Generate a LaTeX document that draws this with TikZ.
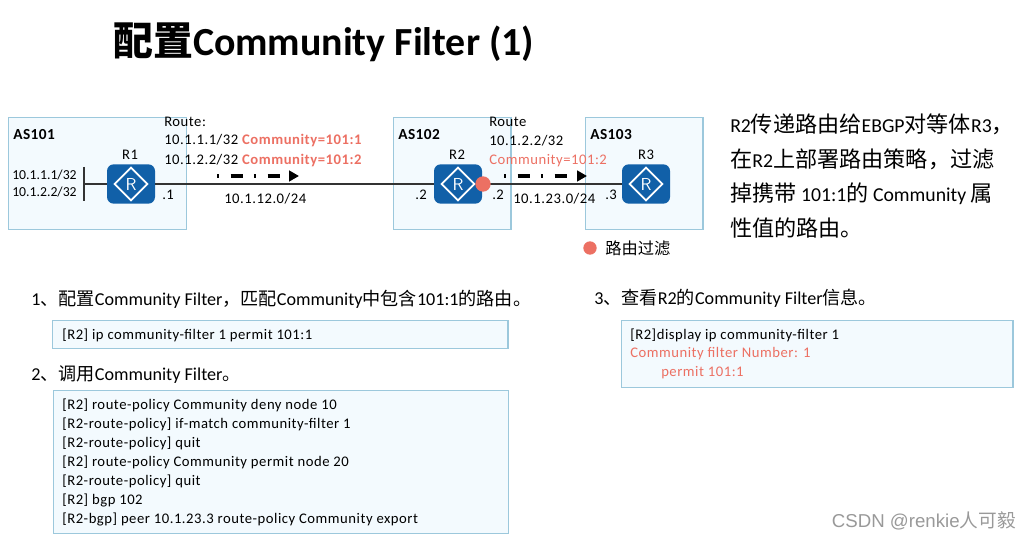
\documentclass[tikz,border=0pt]{standalone}
\usepackage{fontspec}
\usetikzlibrary{shapes.geometric,arrows.meta}
\setmainfont{Carlito}
\newfontfamily\cjk{Noto Sans CJK SC}
\newfontfamily\wmfont{Liberation Sans}
\newcommand{\zh}[1]{{\cjk #1}}
\newcommand{\zhb}[1]{{\cjk\fontsize{16.6}{18}\selectfont #1}}
\newcommand{\spaced}{\fontsize{11}{13}\selectfont\addfontfeature{LetterSpace=3.6}}
\definecolor{salmon}{HTML}{EC7063}
\definecolor{routerblue}{HTML}{1160A8}
\definecolor{boxfill}{HTML}{F3FAFE}
\definecolor{boxline}{HTML}{9CC8DC}
\definecolor{linkdark}{HTML}{333333}
\tikzset{
 x=0.75pt,y=-0.75pt,
 asbox/.style={draw=boxline,fill=boxfill,line width=0.9pt,minimum width=0pt,inner sep=0pt,anchor=north west},
 router/.style={fill=routerblue,rounded corners=5pt,minimum width=36pt,minimum height=29.5pt,inner sep=0pt},
 rmark/.style={draw=white,line width=1.3pt,diamond,aspect=1,minimum size=25pt,inner sep=0pt,text=white,font=\fontsize{13}{13}\selectfont\sffamily},
 lab/.style={inner sep=0pt,font=\spaced,text=black},
 lableft/.style={lab,anchor=west},
 red/.style={text=salmon},
 link/.style={draw=linkdark,line width=1.5pt},
 flow/.style={draw=black,line width=2.6pt,dash pattern=on 1.2pt off 9pt on 9.5pt off 8pt,-{Triangle[length=7.5pt,width=8pt]}},
 dot/.style={circle,fill=salmon,inner sep=0pt},
 head/.style={inner sep=0pt,anchor=west,font=\fontsize{13.6}{16}\selectfont},
 cmd/.style={inner sep=0pt,anchor=west,font=\spaced},
 side/.style={inner sep=0pt,anchor=west,font=\fontsize{14.8}{18}\selectfont},
 asname/.style={inner sep=0pt,anchor=west,font=\fontsize{11.5}{13}\selectfont\bfseries\addfontfeature{LetterSpace=3}},
}
\begin{document}
\begin{tikzpicture}
\useasboundingbox (0,0) rectangle (1031,541);
% title
\node[inner sep=0pt,anchor=west,font=\fontsize{29.9}{34}\selectfont\bfseries] (title) at (113,42) {\zh{配置}Community Filter (1)};
% AS boxes
\node[asbox,minimum width=133.5pt,minimum height=84pt] (as101) at (8,117) {};
\node[asbox,minimum width=88pt,minimum height=84pt] (as102) at (393,117) {};
\node[asbox,minimum width=88pt,minimum height=84pt] (as103) at (585,117) {};
\node[asname] (l101) at (13,134.5) {AS101};
\node[asname] (l102) at (398,134.5) {AS102};
\node[asname] (l103) at (590,134.5) {AS103};
% routers
\node[router] (r1) at (131,184) {};
\node[router] (r2) at (458,184) {};
\node[router] (r3) at (646,184) {};
\node[rmark] (m1) at (r1) {R};
\node[rmark] (m2) at (r2) {R};
\node[rmark] (m3) at (r3) {R};
\node[lab] (n1) at (130,154.5) {R1};
\node[lab] (n2) at (457,154.5) {R2};
\node[lab] (n3) at (646,154.5) {R3};
% links
\coordinate (busT) at (84,167);
\coordinate (busB) at (84,201);
\coordinate (busM) at (84,184);
\draw[link] (busT) -- (busB);
\draw[link] (busM) -- (r1.west);
\draw[link] (r1.east) -- (r2.west);
\draw[link] (r2.east) -- (r3.west);
% filter dot
\node[dot,minimum size=11.5pt] (f) at (483,184) {};
\node[dot,minimum size=10pt] (legend) at (590,248) {};
\node[inner sep=0pt,anchor=west,font=\fontsize{12.2}{14}\selectfont] (legendt) at (605,248) {\zh{路由过滤}};
% flow arrows
\coordinate (a1s) at (217,176);
\coordinate (a1e) at (299,176);
\coordinate (a2s) at (504,176);
\coordinate (a2e) at (587,176);
\draw[flow] (a1s) -- (a1e);
\draw[flow] (a2s) -- (a2e);
% left route texts
\node[inner sep=0pt,anchor=west,font=\fontsize{10.3}{12}\selectfont] (p1) at (12,175.5) {10.1.1.1/32};
\node[inner sep=0pt,anchor=west,font=\fontsize{10.3}{12}\selectfont] (p2) at (12,192.5) {10.1.2.2/32};
\node[lableft] (rt1) at (164,122) {Route:};
\node[lableft] (rt2) at (164,141) {10.1.1.1/32 \textcolor{salmon}{\bfseries Community=101:1}};
\node[lableft] (rt3) at (164,161) {10.1.2.2/32 \textcolor{salmon}{\bfseries Community=101:2}};
\node[lableft] (rt4) at (489,122) {Route};
\node[lableft] (rt5) at (489,141) {10.1.2.2/32};
\node[lableft,red] (rt6) at (489,161) {Community=101:2};
\node[lableft] (i1) at (162,195) {.1};
\node[lableft] (i2) at (415,195) {.2};
\node[lableft] (i3) at (492,195) {.2};
\node[lableft] (i4) at (605,195) {.3};
\node[lableft] (s1) at (224,198.5) {10.1.12.0/24};
\node[lableft] (s2) at (513,198.5) {10.1.23.0/24};
% side text
\node[side] (t1) at (730,124) {R2\zhb{传递路由给}EBGP\zhb{对等体}R3\zhb{，}};
\node[side] (t2) at (730,159) {\zhb{在}R2\zhb{上部署路由策略，过滤}};
\node[side] (t3) at (730,194) {\zhb{掉携带} 101:1\zhb{的} Community \zhb{属}};
\node[side] (t4) at (730,228) {\zhb{性值的路由。}};
% headings
\node[head] (h1) at (31,299) {1\zh{、配置}Community Filter\zh{，匹配}Community\zh{中包含}101:1\zh{的路由。}};
\node[head] (h2) at (31,375) {2\zh{、调用}Community Filter\zh{。}};
\node[head] (h3) at (594,298) {3\zh{、查看}R2\zh{的}Community Filter\zh{信息。}};
% command boxes
\node[asbox,minimum width=341.5pt,minimum height=21pt] (b1) at (52,320) {};
\node[asbox,minimum width=341.5pt,minimum height=107pt] (b2) at (52.5,390) {};
\node[asbox,minimum width=293.5pt,minimum height=50pt] (b3) at (621,320) {};
\node[cmd] (c1) at (62,335) {[R2] ip community-filter 1 permit 101:1};
\node[cmd] (d1) at (62,405) {[R2] route-policy Community deny node 10};
\node[cmd] (d2) at (62,424) {[R2-route-policy] if-match community-filter 1};
\node[cmd] (d3) at (62,443) {[R2-route-policy] quit};
\node[cmd] (d4) at (62,462) {[R2] route-policy Community permit node 20};
\node[cmd] (d5) at (62,481) {[R2-route-policy] quit};
\node[cmd] (d6) at (62,500) {[R2] bgp 102};
\node[cmd] (d7) at (62,519) {[R2-bgp] peer 10.1.23.3 route-policy Community export};
\node[cmd] (e1) at (630,335) {[R2]display ip community-filter 1};
\node[cmd,red] (e2) at (630,354) {Community filter Number: 1};
\node[cmd,red] (e3) at (661,373) {permit 101:1};
% watermark
\node[inner sep=0pt,anchor=east,text=black!40,font=\fontsize{14}{16}\selectfont\wmfont] (wm) at (1016,521) {CSDN @renkie\zh{人可毅}};
\end{tikzpicture}
\end{document}
